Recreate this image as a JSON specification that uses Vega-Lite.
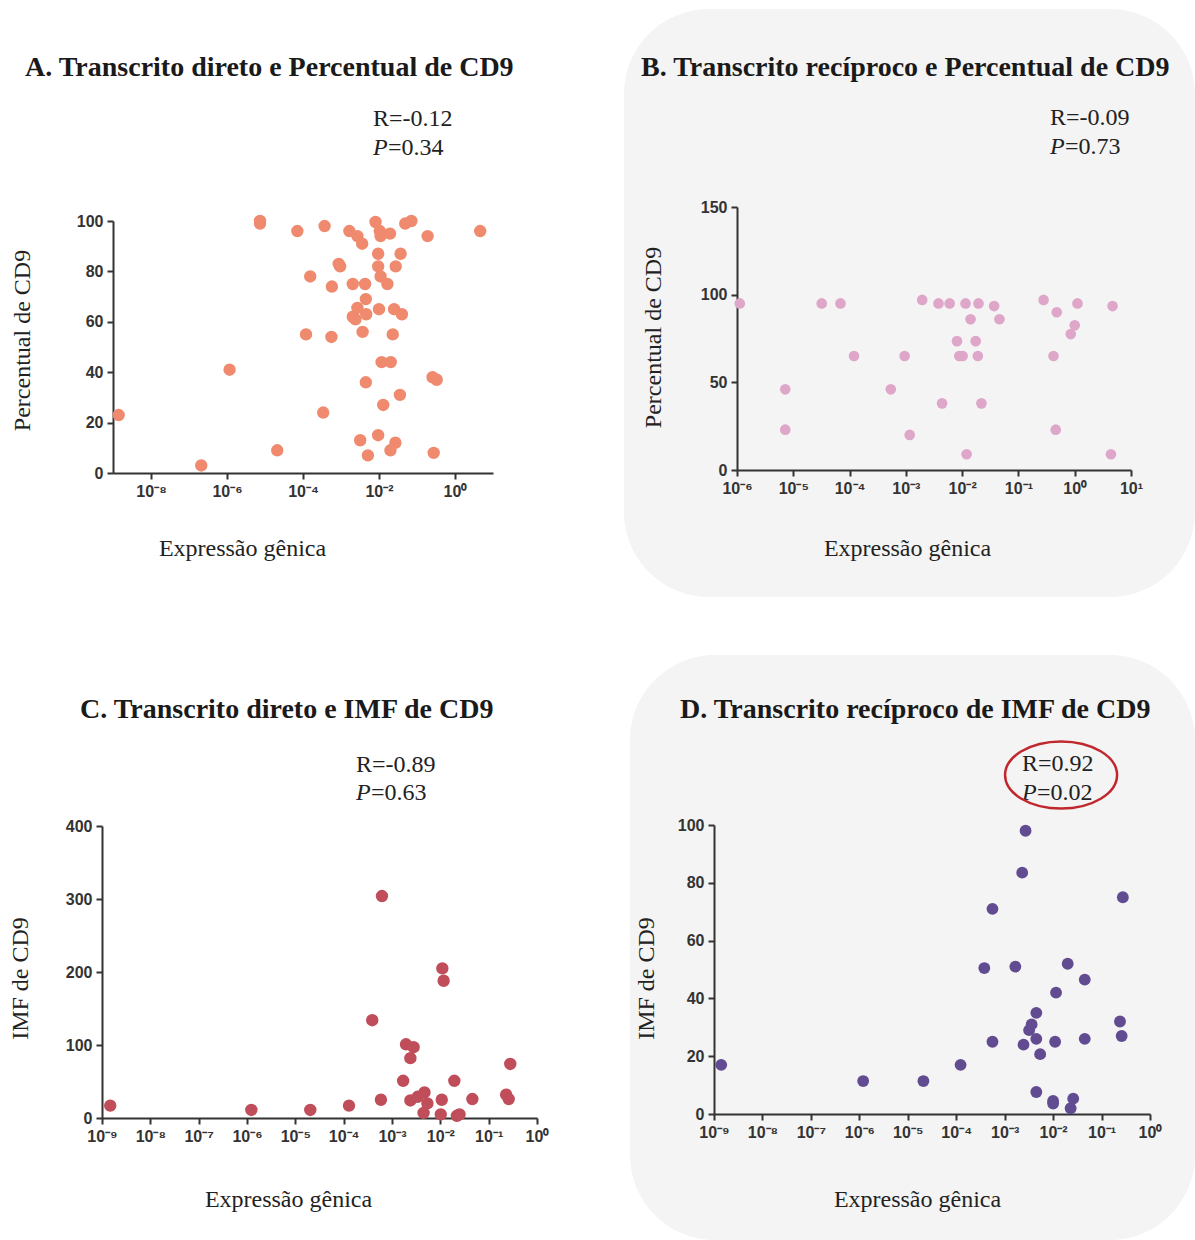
{
  "$schema": "https://vega.github.io/schema/vega-lite/v6.json",
  "background": "white",
  "padding": {"left": 0, "top": 9, "right": 0, "bottom": 0},
  "spacing": 58,
  "datasets": {
    "A": [
      {"expressao": 7.4e-6, "percentual": 100}, {"expressao": 7.4e-6, "percentual": 99},
      {"expressao": 7.1e-5, "percentual": 96}, {"expressao": 3.7e-4, "percentual": 98},
      {"expressao": 1.66e-3, "percentual": 96}, {"expressao": 2.7e-3, "percentual": 94},
      {"expressao": 3.6e-3, "percentual": 91}, {"expressao": 8.1e-3, "percentual": 99.6},
      {"expressao": 1.05e-2, "percentual": 96}, {"expressao": 1.1e-2, "percentual": 94},
      {"expressao": 1.95e-2, "percentual": 95}, {"expressao": 4.9e-2, "percentual": 99},
      {"expressao": 7.1e-2, "percentual": 100}, {"expressao": 0.19, "percentual": 94},
      {"expressao": 4.6, "percentual": 96}, {"expressao": 9.5e-3, "percentual": 87},
      {"expressao": 3.7e-2, "percentual": 87}, {"expressao": 8.7e-4, "percentual": 83},
      {"expressao": 9.5e-4, "percentual": 82}, {"expressao": 1.55e-4, "percentual": 78},
      {"expressao": 9.5e-3, "percentual": 82}, {"expressao": 2.75e-2, "percentual": 82},
      {"expressao": 1.1e-2, "percentual": 78}, {"expressao": 5.75e-4, "percentual": 74},
      {"expressao": 2.04e-3, "percentual": 75}, {"expressao": 4.3e-3, "percentual": 75},
      {"expressao": 1.66e-2, "percentual": 75}, {"expressao": 4.5e-3, "percentual": 69},
      {"expressao": 2.7e-3, "percentual": 65.5}, {"expressao": 2.04e-3, "percentual": 62},
      {"expressao": 2.4e-3, "percentual": 61}, {"expressao": 4.6e-3, "percentual": 63},
      {"expressao": 1.0e-2, "percentual": 65}, {"expressao": 2.5e-2, "percentual": 65},
      {"expressao": 4.0e-2, "percentual": 63}, {"expressao": 1.2e-4, "percentual": 55},
      {"expressao": 5.6e-4, "percentual": 54}, {"expressao": 3.7e-3, "percentual": 56},
      {"expressao": 2.3e-2, "percentual": 55}, {"expressao": 1.17e-2, "percentual": 44},
      {"expressao": 2.04e-2, "percentual": 44}, {"expressao": 1.17e-6, "percentual": 41},
      {"expressao": 4.5e-3, "percentual": 36}, {"expressao": 0.257, "percentual": 38},
      {"expressao": 0.33, "percentual": 37}, {"expressao": 3.55e-2, "percentual": 31},
      {"expressao": 1.29e-2, "percentual": 27}, {"expressao": 3.4e-4, "percentual": 24},
      {"expressao": 1.41e-9, "percentual": 23}, {"expressao": 3.2e-3, "percentual": 13},
      {"expressao": 9.5e-3, "percentual": 15}, {"expressao": 2.7e-2, "percentual": 12},
      {"expressao": 2.0e-2, "percentual": 9}, {"expressao": 5.1e-3, "percentual": 7},
      {"expressao": 2.1e-5, "percentual": 9}, {"expressao": 0.275, "percentual": 8},
      {"expressao": 2.1e-7, "percentual": 3}
    ],
    "B": [
      {"expressao": 1.12e-6, "percentual": 95}, {"expressao": 3.2e-5, "percentual": 95},
      {"expressao": 6.9e-5, "percentual": 95}, {"expressao": 1.2e-4, "percentual": 65},
      {"expressao": 7.2e-6, "percentual": 46}, {"expressao": 7.2e-6, "percentual": 23},
      {"expressao": 5.4e-4, "percentual": 46}, {"expressao": 9.5e-4, "percentual": 65},
      {"expressao": 1.17e-3, "percentual": 20}, {"expressao": 1.95e-3, "percentual": 97},
      {"expressao": 3.8e-3, "percentual": 95}, {"expressao": 6.0e-3, "percentual": 95},
      {"expressao": 4.4e-3, "percentual": 38}, {"expressao": 1.15e-2, "percentual": 95},
      {"expressao": 1.95e-2, "percentual": 95}, {"expressao": 1.41e-2, "percentual": 86},
      {"expressao": 8.1e-3, "percentual": 73.5}, {"expressao": 1.74e-2, "percentual": 73.5},
      {"expressao": 8.9e-3, "percentual": 65}, {"expressao": 1.02e-2, "percentual": 65},
      {"expressao": 1.9e-2, "percentual": 65}, {"expressao": 2.2e-2, "percentual": 38},
      {"expressao": 1.2e-2, "percentual": 9}, {"expressao": 3.7e-2, "percentual": 93.5},
      {"expressao": 4.6e-2, "percentual": 86}, {"expressao": 0.28, "percentual": 97},
      {"expressao": 0.48, "percentual": 90}, {"expressao": 1.12, "percentual": 95},
      {"expressao": 1.0, "percentual": 82.5}, {"expressao": 0.85, "percentual": 77.5},
      {"expressao": 0.42, "percentual": 65}, {"expressao": 0.46, "percentual": 23},
      {"expressao": 4.7, "percentual": 93.5}, {"expressao": 4.4, "percentual": 9}
    ],
    "C": [
      {"expressao": 1.48e-9, "imf": 17}, {"expressao": 1.23e-6, "imf": 11},
      {"expressao": 2.04e-5, "imf": 11}, {"expressao": 1.29e-4, "imf": 17},
      {"expressao": 3.9e-4, "imf": 134}, {"expressao": 6.2e-4, "imf": 304},
      {"expressao": 5.9e-4, "imf": 25}, {"expressao": 1.7e-3, "imf": 51},
      {"expressao": 1.95e-3, "imf": 101}, {"expressao": 2.8e-3, "imf": 97},
      {"expressao": 2.4e-3, "imf": 82}, {"expressao": 2.4e-3, "imf": 24},
      {"expressao": 3.4e-3, "imf": 29}, {"expressao": 4.7e-3, "imf": 35},
      {"expressao": 5.4e-3, "imf": 20}, {"expressao": 4.5e-3, "imf": 7},
      {"expressao": 1.1e-2, "imf": 205}, {"expressao": 1.17e-2, "imf": 188},
      {"expressao": 1.07e-2, "imf": 25}, {"expressao": 1.02e-2, "imf": 5},
      {"expressao": 1.95e-2, "imf": 51}, {"expressao": 2.5e-2, "imf": 5},
      {"expressao": 2.2e-2, "imf": 3}, {"expressao": 4.6e-2, "imf": 26},
      {"expressao": 0.23, "imf": 32}, {"expressao": 0.26, "imf": 26},
      {"expressao": 0.28, "imf": 74}
    ],
    "D": [
      {"expressao": 1.41e-9, "imf": 17}, {"expressao": 1.2e-6, "imf": 11.4},
      {"expressao": 2.1e-5, "imf": 11.4}, {"expressao": 1.23e-4, "imf": 17},
      {"expressao": 3.8e-4, "imf": 50.5}, {"expressao": 5.6e-4, "imf": 71},
      {"expressao": 5.6e-4, "imf": 25}, {"expressao": 1.66e-3, "imf": 51},
      {"expressao": 2.3e-3, "imf": 83.5}, {"expressao": 2.7e-3, "imf": 98},
      {"expressao": 2.45e-3, "imf": 24}, {"expressao": 3.2e-3, "imf": 29},
      {"expressao": 3.6e-3, "imf": 31}, {"expressao": 4.5e-3, "imf": 35},
      {"expressao": 4.5e-3, "imf": 26}, {"expressao": 5.4e-3, "imf": 20.7},
      {"expressao": 4.5e-3, "imf": 7.6}, {"expressao": 1.0e-2, "imf": 4.5},
      {"expressao": 1.0e-2, "imf": 3.6}, {"expressao": 1.1e-2, "imf": 25},
      {"expressao": 1.15e-2, "imf": 42}, {"expressao": 2.0e-2, "imf": 52},
      {"expressao": 2.3e-2, "imf": 2}, {"expressao": 2.6e-2, "imf": 5.3},
      {"expressao": 4.5e-2, "imf": 46.5}, {"expressao": 4.5e-2, "imf": 26},
      {"expressao": 0.24, "imf": 32}, {"expressao": 0.26, "imf": 27},
      {"expressao": 0.275, "imf": 75}
    ]
  },
  "vconcat": [
    {
      "spacing": 4,
      "hconcat": [
        {
          "width": 620, "height": 588,
          "title": {"text": "A. Transcrito direto e Percentual de CD9", "offset": -73, "dx": 25},
          "layer": [
            {
              "data": {"name": "A"},
              "mark": {"type": "circle", "size": 154, "opacity": 1, "color": "#f08a6e"},
              "encoding": {
                "x": {"field": "expressao", "type": "quantitative",
                  "scale": {"type": "log", "domain": [1e-9, 10], "range": [113, 493], "nice": false},
                  "axis": {"title": "Expressão gênica", "values": [1e-8, 1e-6, 1e-4, 1e-2, 1], "offset": -124, "titleX": 242, "titleY": 82}},
                "y": {"field": "percentual", "type": "quantitative",
                  "scale": {"domain": [0, 100], "range": [464, 212], "nice": false, "zero": false},
                  "axis": {"title": "Percentual de CD9", "values": [0, 20, 40, 60, 80, 100], "offset": -113, "titleX": -91, "titleY": 331}}
              }
            },
            {
              "data": {"values": [{}]},
              "mark": {"type": "text", "text": "R=-0.12", "align": "left", "baseline": "alphabetic", "font": "Liberation Serif", "fontSize": 24, "color": "#222"},
              "encoding": {"x": {"datum": 0.00695, "type": "quantitative"}, "y": {"datum": 137.7, "type": "quantitative"}}
            },
            {
              "data": {"values": [{}]},
              "mark": {"type": "text", "text": "P", "align": "left", "baseline": "alphabetic", "font": "Liberation Serif", "fontStyle": "italic", "fontSize": 24, "color": "#222"},
              "encoding": {"x": {"datum": 0.00695, "type": "quantitative"}, "y": {"datum": 126.2, "type": "quantitative"}}
            },
            {
              "data": {"values": [{}]},
              "mark": {"type": "text", "text": "=0.34", "align": "left", "dx": 15, "baseline": "alphabetic", "font": "Liberation Serif", "fontSize": 24, "color": "#222"},
              "encoding": {"x": {"datum": 0.00695, "type": "quantitative"}, "y": {"datum": 126.2, "type": "quantitative"}}
            }
          ]
        },
        {
          "width": 571, "height": 588,
          "view": {"fill": "#f4f4f4", "cornerRadius": 85, "stroke": null},
          "title": {"text": "B. Transcrito recíproco e Percentual de CD9", "offset": -73, "dx": 17},
          "layer": [
            {
              "data": {"name": "B"},
              "mark": {"type": "circle", "size": 113, "opacity": 1, "color": "#dea6c9"},
              "encoding": {
                "x": {"field": "expressao", "type": "quantitative",
                  "scale": {"type": "log", "domain": [1e-6, 10], "range": [113, 507], "nice": false},
                  "axis": {"title": "Expressão gênica", "values": [1e-6, 1e-5, 1e-4, 1e-3, 1e-2, 1e-1, 1, 10], "offset": -127, "titleX": 283, "titleY": 85}},
                "y": {"field": "percentual", "type": "quantitative",
                  "scale": {"domain": [0, 150], "range": [461, 198], "nice": false, "zero": false},
                  "axis": {"title": "Percentual de CD9", "values": [0, 50, 100, 150], "offset": -113, "titleX": -84, "titleY": 328}}
              }
            },
            {
              "data": {"values": [{}]},
              "mark": {"type": "text", "text": "R=-0.09", "align": "left", "baseline": "alphabetic", "font": "Liberation Serif", "fontSize": 24, "color": "#222"},
              "encoding": {"x": {"datum": 0.3634, "type": "quantitative"}, "y": {"datum": 196.8, "type": "quantitative"}}
            },
            {
              "data": {"values": [{}]},
              "mark": {"type": "text", "text": "P", "align": "left", "baseline": "alphabetic", "font": "Liberation Serif", "fontStyle": "italic", "fontSize": 24, "color": "#222"},
              "encoding": {"x": {"datum": 0.3634, "type": "quantitative"}, "y": {"datum": 180.2, "type": "quantitative"}}
            },
            {
              "data": {"values": [{}]},
              "mark": {"type": "text", "text": "=0.73", "align": "left", "dx": 15, "baseline": "alphabetic", "font": "Liberation Serif", "fontSize": 24, "color": "#222"},
              "encoding": {"x": {"datum": 0.3634, "type": "quantitative"}, "y": {"datum": 180.2, "type": "quantitative"}}
            }
          ]
        }
      ]
    },
    {
      "spacing": 4,
      "hconcat": [
        {
          "width": 626, "height": 585,
          "title": {"text": "C. Transcrito direto e IMF de CD9", "offset": -69, "dx": 80},
          "layer": [
            {
              "data": {"name": "C"},
              "mark": {"type": "circle", "size": 154, "opacity": 1, "color": "#c04d5a"},
              "encoding": {
                "x": {"field": "expressao", "type": "quantitative",
                  "scale": {"type": "log", "domain": [1e-9, 1], "range": [102, 537], "nice": false},
                  "axis": {"title": "Expressão gênica", "values": [1e-9, 1e-8, 1e-7, 1e-6, 1e-5, 1e-4, 1e-3, 1e-2, 1e-1, 1], "offset": -122, "titleX": 288, "titleY": 88}},
                "y": {"field": "imf", "type": "quantitative",
                  "scale": {"domain": [0, 400], "range": [463, 171], "nice": false, "zero": false},
                  "axis": {"title": "IMF de CD9", "values": [0, 100, 200, 300, 400], "offset": -102, "titleX": -82, "titleY": 323}}
              }
            },
            {
              "data": {"values": [{}]},
              "mark": {"type": "text", "text": "R=-0.89", "align": "left", "baseline": "alphabetic", "font": "Liberation Serif", "fontSize": 24, "color": "#222"},
              "encoding": {"x": {"datum": 1.8e-4, "type": "quantitative"}, "y": {"datum": 474, "type": "quantitative"}}
            },
            {
              "data": {"values": [{}]},
              "mark": {"type": "text", "text": "P", "align": "left", "baseline": "alphabetic", "font": "Liberation Serif", "fontStyle": "italic", "fontSize": 24, "color": "#222"},
              "encoding": {"x": {"datum": 1.8e-4, "type": "quantitative"}, "y": {"datum": 435.6, "type": "quantitative"}}
            },
            {
              "data": {"values": [{}]},
              "mark": {"type": "text", "text": "=0.63", "align": "left", "dx": 15, "baseline": "alphabetic", "font": "Liberation Serif", "fontSize": 24, "color": "#222"},
              "encoding": {"x": {"datum": 1.8e-4, "type": "quantitative"}, "y": {"datum": 435.6, "type": "quantitative"}}
            }
          ]
        },
        {
          "width": 565, "height": 585,
          "view": {"fill": "#f4f4f4", "cornerRadius": 85, "stroke": null},
          "title": {"text": "D. Transcrito recíproco de IMF de CD9", "offset": -69, "dx": 50},
          "layer": [
            {
              "data": {"name": "D"},
              "mark": {"type": "circle", "size": 140, "opacity": 1, "color": "#624c91"},
              "encoding": {
                "x": {"field": "expressao", "type": "quantitative",
                  "scale": {"type": "log", "domain": [1e-9, 1], "range": [84, 520], "nice": false},
                  "axis": {"title": "Expressão gênica", "values": [1e-9, 1e-8, 1e-7, 1e-6, 1e-5, 1e-4, 1e-3, 1e-2, 1e-1, 1], "offset": -126, "titleX": 287, "titleY": 92}},
                "y": {"field": "imf", "type": "quantitative",
                  "scale": {"domain": [0, 100], "range": [459, 170], "nice": false, "zero": false},
                  "axis": {"title": "IMF de CD9", "values": [0, 20, 40, 60, 80, 100], "offset": -84, "titleX": -68, "titleY": 323}}
              }
            },
            {
              "data": {"values": [{}]},
              "mark": {"type": "text", "text": "R=0.92", "align": "left", "baseline": "alphabetic", "font": "Liberation Serif", "fontSize": 24, "color": "#222"},
              "encoding": {"x": {"datum": 2.28e-3, "type": "quantitative"}, "y": {"datum": 118.7, "type": "quantitative"}}
            },
            {
              "data": {"values": [{}]},
              "mark": {"type": "text", "text": "P", "align": "left", "baseline": "alphabetic", "font": "Liberation Serif", "fontStyle": "italic", "fontSize": 24, "color": "#222"},
              "encoding": {"x": {"datum": 2.28e-3, "type": "quantitative"}, "y": {"datum": 108.7, "type": "quantitative"}}
            },
            {
              "data": {"values": [{}]},
              "mark": {"type": "text", "text": "=0.02", "align": "left", "dx": 15, "baseline": "alphabetic", "font": "Liberation Serif", "fontSize": 24, "color": "#222"},
              "encoding": {"x": {"datum": 2.28e-3, "type": "quantitative"}, "y": {"datum": 108.7, "type": "quantitative"}}
            },
            {
              "data": {"values": [{}]},
              "mark": {"type": "point", "shape": "M-1,0A1,0.6,0,1,1,1,0A1,0.6,0,1,1,-1,0Z", "size": 12544, "filled": false, "stroke": "#c0282d", "strokeWidth": 2.5, "opacity": 1},
              "encoding": {"x": {"datum": 1.46e-2, "type": "quantitative"}, "y": {"datum": 117.3, "type": "quantitative"}}
            }
          ]
        }
      ]
    }
  ],
  "config": {
    "view": {"stroke": null},
    "title": {"font": "Liberation Serif", "fontSize": 28, "fontWeight": "bold", "color": "#1a1a1a", "anchor": "start", "frame": "group", "baseline": "alphabetic"},
    "axis": {
      "grid": false,
      "domainColor": "#333", "domainWidth": 2,
      "tickColor": "#333", "tickWidth": 2, "tickSize": 6,
      "labelFont": "Liberation Sans", "labelFontSize": 16, "labelFontWeight": "bold", "labelColor": "#333", "labelPadding": 4,
      "labelFlush": false, "labelOverlap": false,
      "titleFont": "Liberation Serif", "titleFontSize": 24, "titleFontWeight": "normal", "titleColor": "#222"
    },
    "axisX": {
      "titleBaseline": "alphabetic", "titleAlign": "center",
      "labelExpr": "'10' + (datum.value < 1 ? '⁻' : '') + ['⁰','¹','²','³','⁴','⁵','⁶','⁷','⁸','⁹'][abs(round(log(datum.value)/LN10))]"
    },
    "axisY": {"titleBaseline": "middle", "titleAlign": "center"}
  }
}
